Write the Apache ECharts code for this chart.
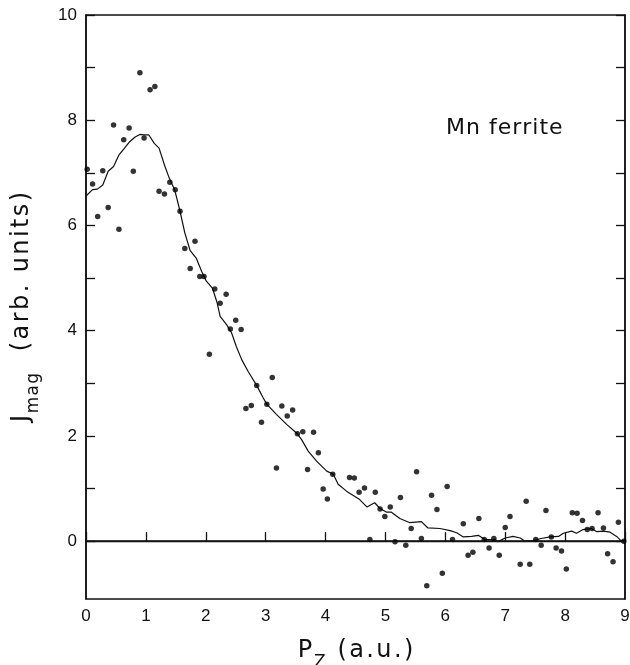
<!DOCTYPE html>
<html>
<head>
<meta charset="utf-8">
<script src="https://cdn.jsdelivr.net/npm/echarts@6/dist/echarts.min.js"></script>
<style>html,body{margin:0;padding:0;background:#fff;}#c{width:630px;height:665px;}</style>
</head>
<body>
<div id="c"></div>
<script>
// Measured points (P_z, J_mag)
var dotX = [0.02,0.11,0.195,0.28,0.37,0.46,0.55,0.63,0.72,0.79,0.90,0.97,1.07,1.15,1.22,1.31,1.40,1.49,1.57,1.65,1.74,1.82,1.90,1.97,2.06,2.15,2.24,2.34,2.41,2.50,2.59,2.67,2.76,2.85,2.93,3.02,3.11,3.18,3.27,3.36,3.45,3.53,3.62,3.70,3.80,3.88,3.96,4.03,4.12,4.40,4.48,4.56,4.65,4.74,4.83,4.91,4.99,5.08,5.16,5.25,5.34,5.43,5.52,5.60,5.69,5.77,5.86,5.95,6.03,6.12,6.30,6.38,6.46,6.56,6.65,6.73,6.81,6.90,7.00,7.08,7.25,7.35,7.41,7.51,7.60,7.68,7.77,7.85,7.94,8.02,8.12,8.20,8.29,8.37,8.45,8.55,8.64,8.71,8.80,8.89,8.98];
var dotY = [7.07,6.79,6.17,7.04,6.34,7.91,5.93,7.63,7.85,7.03,8.90,7.66,8.58,8.64,6.65,6.60,6.82,6.68,6.27,5.56,5.18,5.70,5.03,5.03,3.55,4.79,4.52,4.69,4.03,4.20,4.02,2.52,2.58,2.96,2.26,2.60,3.11,1.39,2.57,2.38,2.49,2.04,2.08,1.36,2.07,1.68,0.99,0.80,1.27,1.21,1.20,0.93,1.01,0.03,0.93,0.61,0.47,0.65,-0.01,0.83,-0.08,0.24,1.32,0.05,-0.85,0.87,0.60,-0.61,1.04,0.03,0.33,-0.27,-0.21,0.43,0.03,-0.13,0.05,-0.27,0.26,0.47,-0.44,0.76,-0.44,0.03,-0.08,0.58,0.08,-0.13,-0.19,-0.53,0.54,0.53,0.39,0.22,0.24,0.54,0.25,-0.24,-0.39,0.36,0.00];
// Smoothed curve
var curveX = [0,0.11,0.19,0.28,0.37,0.46,0.55,0.63,0.72,0.82,0.90,0.97,1.05,1.14,1.22,1.31,1.39,1.48,1.57,1.65,1.74,1.84,1.93,2.01,2.11,2.19,2.24,2.35,2.43,2.51,2.60,2.71,2.85,2.96,3.02,3.18,3.35,3.53,3.60,3.71,3.85,4.02,4.13,4.21,4.35,4.57,4.69,4.82,4.91,5.02,5.10,5.24,5.41,5.60,5.71,5.91,6.08,6.19,6.30,6.44,6.55,6.66,6.83,6.88,7.00,7.13,7.25,7.33,7.47,7.60,7.75,7.89,7.97,8.11,8.19,8.30,8.44,8.53,8.64,8.75,8.86,8.94,9.0];
var curveY = [6.56,6.68,6.69,6.77,7.03,7.12,7.34,7.45,7.58,7.68,7.73,7.72,7.72,7.56,7.47,7.15,6.90,6.68,6.27,5.86,5.52,5.38,5.13,4.94,4.81,4.53,4.27,4.11,3.96,3.70,3.45,3.22,2.96,2.72,2.60,2.41,2.22,2.04,1.93,1.71,1.52,1.33,1.27,1.08,0.95,0.79,0.65,0.73,0.62,0.55,0.55,0.43,0.35,0.37,0.25,0.24,0.20,0.16,0.08,0.09,0.11,0.03,0.03,-0.01,0.06,0.09,0.06,0.00,0.01,0.05,0.08,0.09,0.15,0.19,0.15,0.22,0.24,0.18,0.19,0.17,0.09,0.00,-0.02];
var xTicks = [0,1,2,3,4,5,6,7,8,9];
var yTicks = [0,1,2,3,4,5,6,7,8,9,10];
var yLabels = [0,2,4,6,8,10];
var labelText = 'Mn ferrite';
var yNameMain = 'J', yNameSub = 'mag', yNameRest = '  (arb. units)';
var xNameMain = 'P', xNameSub = 'Z', xNameRest = ' (a.u.)';

var font = 'DejaVu Sans';
var tickFont = 'Liberation Sans';
function sp(s, cls) {
  return s.split('').map(function (ch) { return '{' + cls + '|' + ch + '}'; }).join('');
}
var nameRich = {
  a: {fontFamily: font, fontSize: 24, color: '#111', lineHeight: 32, verticalAlign: 'top', padding: [0, 1.2]},
  s: {fontFamily: font, fontSize: 17, color: '#111', lineHeight: 19, verticalAlign: 'bottom', padding: [0, 0.6]}
};

var chart = echarts.init(document.getElementById('c'), null, {renderer: 'canvas'});
var dots = dotX.map(function (x, i) { return [x, dotY[i]]; });
var curve = curveX.map(function (x, i) { return [x, curveY[i]]; });

chart.setOption({
  animation: false,
  backgroundColor: '#fff',
  grid: {left: 86, right: 5, top: 15, bottom: 66, outerBoundsMode: 'none', containLabel: false,
    show: true, borderColor: '#111', borderWidth: 1.5, backgroundColor: 'transparent'},
  xAxis: [{
    type: 'value', min: 0, max: 9, interval: 1,
    axisLine: {show: true, lineStyle: {color: '#111', width: 1.5}},
    axisTick: {show: true, inside: true, length: 9, lineStyle: {color: '#111', width: 1.3}},
    axisLabel: {color: '#111', fontFamily: tickFont, fontSize: 17, margin: 9},
    splitLine: {show: false},
    name: sp(xNameMain, 'a') + sp(xNameSub, 's') + sp(xNameRest, 'a'),
    nameLocation: 'middle', nameGap: 40,
    nameTextStyle: {color: '#111', fontFamily: font, rich: nameRich}
  }],
  yAxis: [{
    type: 'value', min: -1.1, max: 10,
    axisLine: {show: true, lineStyle: {color: '#111', width: 1.5}},
    axisTick: {show: true, inside: true, length: 9, customValues: yTicks, lineStyle: {color: '#111', width: 1.3}},
    axisLabel: {color: '#111', fontFamily: tickFont, fontSize: 17, margin: 9, customValues: yLabels},
    splitLine: {show: false},
    name: sp(yNameMain, 'a') + sp(yNameSub, 's') + sp(yNameRest, 'a'),
    nameLocation: 'middle', nameGap: 44, nameRotate: 90,
    nameTextStyle: {color: '#111', fontFamily: font, rich: nameRich}
  }, {
    type: 'value', min: -1.1, max: 10, position: 'right',
    axisLine: {show: true, lineStyle: {color: '#111', width: 1.5}},
    axisTick: {show: true, inside: true, length: 9, customValues: yTicks, lineStyle: {color: '#111', width: 1.3}},
    axisLabel: {show: false},
    splitLine: {show: false}
  }],
  graphic: [{
    type: 'text', left: 446, top: 117,
    style: {text: sp(labelText, 't'), fill: '#111', rich: {
      t: {fontFamily: font, fontSize: 22, fill: '#111', padding: [0, 0.5]}
    }}
  }],
  series: [{
    type: 'line', data: curve, showSymbol: false, smooth: false,
    lineStyle: {color: '#111', width: 1.2},
    markLine: {
      silent: true, symbol: 'none', label: {show: false},
      lineStyle: {color: '#111', width: 1.4, type: 'solid'},
      data: [{yAxis: 0}]
    },
    z: 2
  }, {
    type: 'scatter', data: dots, symbol: 'circle', symbolSize: 5.5,
    itemStyle: {color: '#000'}, z: 3
  }]
});
</script>
</body>
</html>
